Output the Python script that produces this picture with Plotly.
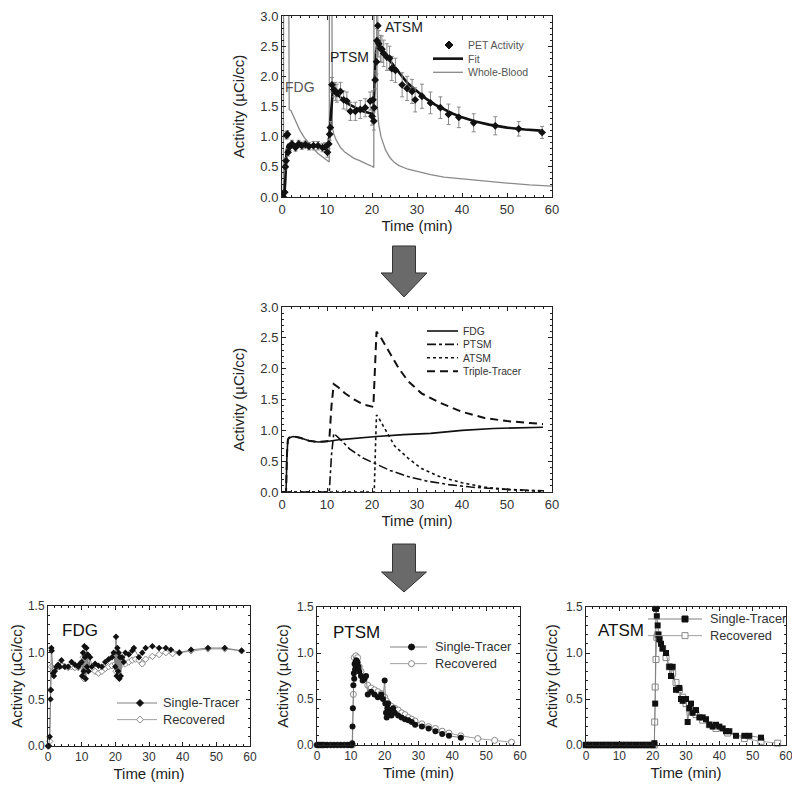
import plotly.graph_objects as go

FONT = "Liberation Sans, Arial, Helvetica, sans-serif"

# ---------------- Top panel data ----------------
pet_t = [0, 0.3, 0.6, 0.75, 0.9, 1.0, 1.2, 1.35, 1.7, 2.2, 3.0, 3.7, 4.4, 5.2, 6, 7, 8, 9, 9.6, 10.1,
         10.4, 10.6, 10.75, 11.1, 11.5, 11.85, 12.2, 13, 13.7, 14.4, 15.2, 16.3, 17.4, 18.5, 19.6,
         20.0, 20.2, 20.4, 20.5, 20.7, 21.0, 21.1, 21.3, 21.5, 21.9, 22.2, 22.6, 23.3, 23.9, 24.4,
         25.2, 26.7, 27.8, 28.9, 29.6, 31.1, 33, 35.2, 37, 39.3, 42.6, 47.4, 52.6, 57.8]
pet_v = [0, 0, 0.08, 0.5, 0.6, 1.02, 1.04, 0.74, 0.83, 0.88, 0.82, 0.88, 0.85, 0.87, 0.84,
         0.85, 0.85, 0.82, 0.83, 0.74, 0.88, 1.04, 1.15, 1.86, 1.78, 1.75, 1.72, 1.75, 1.61, 1.59,
         1.42, 1.42, 1.45, 1.48, 1.59, 1.34, 1.61, 1.26, 1.48, 1.94, 2.24, 2.59, 2.84, 2.54, 2.46,
         2.45, 2.38, 2.32, 2.3, 2.13, 2.1, 1.86, 1.8, 1.75, 1.61, 1.67, 1.56, 1.48, 1.37, 1.32,
         1.23, 1.18, 1.13, 1.07]
pet_err = [0.02, 0.02, 0.03, 0.05, 0.05, 0.06, 0.06, 0.06, 0.06, 0.06, 0.06, 0.06, 0.06, 0.06, 0.06,
           0.07, 0.07, 0.07, 0.07, 0.08, 0.08, 0.1, 0.1, 0.12, 0.12, 0.15, 0.15, 0.15, 0.15, 0.15,
           0.15, 0.15, 0.15, 0.15, 0.15, 0.15, 0.15, 0.15, 0.15, 0.15, 0.2, 0.2, 0.2, 0.22, 0.22,
           0.22, 0.22, 0.22, 0.2, 0.2, 0.2, 0.2, 0.2, 0.2, 0.2, 0.2, 0.18, 0.18, 0.17, 0.17,
           0.15, 0.15, 0.12, 0.1]

fit_t = [0, 0.5, 0.75, 1.0, 1.25, 1.5, 2, 3, 5, 7, 9, 10, 10.4, 10.7, 11, 11.3, 11.6, 12, 13, 14,
         15, 16, 17, 18, 19, 20, 20.3, 20.6, 20.9, 21.2, 21.5, 22, 23, 24, 25, 26, 27, 28, 30, 32,
         34, 36, 38, 40, 43, 46, 50, 54, 57.5]
fit_v = [0, 0, 0.3, 0.75, 0.85, 0.87, 0.88, 0.87, 0.85, 0.84, 0.84, 0.84, 0.9, 1.2, 1.6, 1.78,
         1.75, 1.72, 1.65, 1.58, 1.53, 1.49, 1.45, 1.42, 1.4, 1.38, 1.4, 1.8, 2.4, 2.55, 2.5, 2.45,
         2.35, 2.25, 2.15, 2.05, 1.97, 1.88, 1.75, 1.63, 1.53, 1.45, 1.38, 1.32, 1.25, 1.2, 1.15,
         1.12, 1.1]

wb_t = [0, 0.3, 0.4, 0.8, 1.2, 1.5, 1.6, 2, 2.5, 3, 4, 5, 6, 7, 8, 9, 10, 10.5, 10.6, 11.0, 11.2,
        11.5, 12, 13, 14, 15, 16, 17, 18, 19, 20, 20.4, 20.5, 20.9, 21.2, 21.5, 22, 23, 24, 25,
        26, 28, 30, 33, 36, 40, 45, 50, 55, 60]
wb_v = [0, 0, 6, 10, 6, 3.5, 1.45, 1.43, 1.35, 1.25, 1.1, 0.98, 0.88, 0.8, 0.72, 0.66, 0.6, 0.58,
        8, 5, 1.15, 1.05, 0.95, 0.82, 0.74, 0.69, 0.64, 0.61, 0.57, 0.54, 0.51, 0.49, 8, 5, 1.5,
        1.2, 1.0, 0.78, 0.65, 0.57, 0.52, 0.46, 0.42, 0.37, 0.33, 0.3, 0.26, 0.23, 0.2, 0.18]

# ---------------- Middle panel data ----------------
mfdg_t = [0, 0.9, 1.1, 1.3, 1.6, 2.5, 4, 6, 8, 10, 13, 17, 21, 27, 33, 40, 47, 58]
mfdg_v = [0, 0, 0.6, 0.85, 0.88, 0.9, 0.88, 0.83, 0.81, 0.82, 0.85, 0.88, 0.9, 0.93, 0.95, 1.0, 1.03, 1.05]
mptsm_t = [0, 10.5, 11.0, 11.5, 13, 15, 18, 21, 24, 28, 32, 37, 42, 48, 53, 58]
mptsm_v = [0, 0, 0.6, 0.95, 0.85, 0.7, 0.55, 0.45, 0.35, 0.25, 0.18, 0.12, 0.08, 0.05, 0.03, 0.02]
matsm_t = [0, 20.5, 20.8, 21, 21.5, 23, 25, 28, 31, 35, 40, 45, 50, 55, 58]
matsm_v = [0, 0, 0.8, 1.25, 1.2, 1.0, 0.75, 0.55, 0.38, 0.25, 0.15, 0.08, 0.04, 0.02, 0.01]
mtrip_t = [0, 0.9, 1.1, 1.3, 1.6, 2.5, 4, 6, 8, 10, 10.5, 11.0, 11.5, 12.5, 14, 16, 18, 20.3,
           20.8, 21, 22, 24, 26, 28, 31, 35, 40, 45, 50, 55, 58]
mtrip_v = [0, 0, 0.6, 0.85, 0.88, 0.9, 0.88, 0.83, 0.81, 0.82, 0.83, 1.4, 1.75, 1.7, 1.6, 1.5,
           1.42, 1.38, 2.1, 2.6, 2.5, 2.25, 2.0, 1.8, 1.6, 1.45, 1.3, 1.2, 1.15, 1.12, 1.1]

# ---------------- Bottom panels data ----------------
fdg_s_t = [0, 0.25, 0.5, 0.75, 0.85, 1.0, 1.1, 1.5, 1.75, 2, 2.5, 3, 3.5, 4, 5, 6, 7, 8, 9, 9.5,
           10, 10.2, 10.4, 10.6, 10.8, 11, 11.2, 11.4, 11.6, 11.8, 12, 12.5, 13, 14, 15, 16, 17,
           18, 19, 19.5, 20, 20.2, 20.4, 20.6, 20.8, 21, 21.2, 21.4, 21.6, 22, 22.5, 23, 24, 25,
           25.5, 27, 28, 29, 31, 33, 35, 36.5, 39, 42.5, 47.5, 52.5, 57.5]
fdg_s_v = [0, 0, 0.1, 0.5, 0.6, 1.05, 1.02, 0.78, 0.75, 0.8, 0.85, 0.87, 0.85, 0.92, 0.85, 0.85,
           0.9, 0.87, 0.85, 0.88, 0.9, 0.75, 1.0, 0.8, 1.07, 0.95, 0.72, 1.05, 0.85, 0.98, 0.8,
           0.95, 0.85, 0.88, 0.86, 0.85, 0.9, 0.93, 0.95, 1.0, 0.85, 1.17, 0.75, 1.05, 0.8, 1.0,
           0.72, 0.95, 0.75, 0.95, 0.9, 1.0, 0.98, 1.02, 1.05, 0.95, 1.0, 1.05, 1.07, 1.05, 1.05,
           1.03, 1.0, 1.03, 1.05, 1.05, 1.02]
fdg_r_t = [0, 0.25, 0.5, 0.75, 1.0, 1.5, 2, 3, 4, 5, 6, 7, 8, 9, 10, 10.25, 10.5, 10.75, 11, 11.25,
           11.5, 12, 12.5, 13, 14, 15, 16, 17, 18, 19, 20, 20.25, 20.5, 20.75, 21, 21.25, 21.5, 22,
           23, 24, 25, 26, 27, 28, 29, 31, 33, 35, 37, 39, 42.5, 47.5, 52.5, 57.5]
fdg_r_v = [0, 0, 0.05, 0.6, 0.85, 0.8, 0.82, 0.85, 0.86, 0.85, 0.84, 0.85, 0.84, 0.84, 0.85,
           0.75, 0.95, 0.72, 0.92, 0.8, 0.88, 0.85, 0.82, 0.83, 0.8, 0.78, 0.8, 0.83, 0.85, 0.86,
           0.88, 0.8, 0.95, 0.82, 0.92, 0.85, 0.9, 0.9, 0.88, 0.9, 0.92, 0.93, 0.92, 0.88, 0.93,
           0.96, 0.98, 1.0, 0.99, 1.0, 1.02, 1.04, 1.04, 1.02]

ptsm_s_t = [0, 0.5, 1, 1.5, 2, 2.5, 3, 4, 5, 6, 7, 8, 9, 9.5, 10, 10.25, 10.4, 10.5, 10.6, 10.75,
            10.9, 11, 11.1, 11.25, 11.4, 11.5, 11.6, 11.75, 12, 12.25, 12.5, 13, 13.5, 14, 14.5,
            15, 16, 17, 18, 19, 19.5, 20, 20.2, 20.4, 20.6, 20.8, 21, 21.25, 21.5, 22, 22.5, 23,
            24, 25, 26, 27, 28, 29, 31, 33, 35, 37, 39, 42.5]
ptsm_s_v = [0, 0, 0, 0, 0, 0, 0, 0, 0, 0, 0, 0, 0, 0, 0, 0.0, 0.02, 0.2, 0.4, 0.65, 0.78, 0.72,
            0.88, 0.82, 0.9, 0.85, 0.92, 0.88, 0.9, 0.85, 0.8, 0.75, 0.7, 0.72, 0.75, 0.55, 0.58,
            0.55, 0.52, 0.55, 0.5, 0.7, 0.45, 0.35, 0.3, 0.4, 0.45, 0.35, 0.38, 0.32, 0.4, 0.35,
            0.32, 0.3, 0.28, 0.27, 0.25, 0.22, 0.2, 0.18, 0.15, 0.12, 0.1, 0.08]
ptsm_r_t = [0, 0.5, 1, 1.5, 2, 3, 4, 5, 6, 7, 8, 9, 10, 10.5, 10.75, 11, 11.5, 12, 12.5, 13, 14, 15,
            16, 17, 18, 19, 20, 20.5, 21, 21.5, 22, 23, 24, 25, 26, 27, 28, 29, 31, 33, 35, 37, 39,
            42.5, 47.5, 52.5, 57.5]
ptsm_r_v = [0, 0, 0, 0, 0, 0, 0, 0, 0, 0, 0, 0, 0, 0, 0.55, 0.95, 0.97, 0.95, 0.85, 0.8, 0.72,
            0.65, 0.62, 0.6, 0.58, 0.56, 0.52, 0.48, 0.45, 0.43, 0.42, 0.4, 0.38, 0.35, 0.33, 0.3,
            0.28, 0.26, 0.23, 0.2, 0.18, 0.15, 0.13, 0.1, 0.07, 0.05, 0.03]

atsm_s_t = [0, 0.5, 1, 1.5, 2, 3, 4, 5, 6, 7, 8, 9, 10, 10.5, 11, 11.5, 12, 13, 14, 15, 16, 17, 18,
            19, 20, 20.5, 20.75, 21, 21.25, 21.5, 21.75, 22, 22.5, 23, 24, 25, 25.5, 26, 27, 28,
            28.5, 29, 30, 30.5, 31, 31.5, 32, 33, 34, 35, 36, 37, 38, 39, 40, 41, 42, 43, 45, 47.5,
            49, 52.5]
atsm_s_v = [0, 0, 0, 0, 0, 0, 0, 0, 0, 0, 0, 0, 0, 0, 0, 0, 0, 0, 0, 0, 0, 0, 0, 0, 0, 0.02, 0.45,
            1.48, 1.4, 1.3, 1.2, 1.15, 1.1, 1.05, 1.0, 0.85, 0.75, 0.85, 0.6, 0.62, 0.5, 0.48, 0.5,
            0.25, 0.4, 0.45, 0.35, 0.38, 0.3, 0.3, 0.28, 0.22, 0.2, 0.22, 0.2, 0.18, 0.15, 0.15,
            0.1, 0.1, 0.1, 0.08]
atsm_r_t = [0, 1, 2, 3, 4, 5, 6, 7, 8, 9, 10, 11, 12, 13, 14, 15, 16, 17, 18, 19, 20, 20.5, 20.6,
            20.75, 21, 21.25, 21.5, 22, 23, 24, 25, 26, 27, 28, 29, 30, 31, 32, 33, 35, 37, 39,
            42.5, 47.5, 52.5, 57.5]
atsm_r_v = [0, 0, 0, 0, 0, 0, 0, 0, 0, 0, 0, 0, 0, 0, 0, 0, 0, 0, 0, 0, 0, 0, 0.25, 0.63, 0.93,
            1.17, 1.2, 1.15, 1.05, 0.95, 0.85, 0.78, 0.68, 0.6, 0.52, 0.45, 0.4, 0.36, 0.33, 0.27,
            0.22, 0.18, 0.13, 0.07, 0.04, 0.02]

x_ticks = [0, 10, 20, 30, 40, 50, 60]
y_ticks_big = [0, 0.5, 1.0, 1.5, 2.0, 2.5, 3.0]
y_ticks_small = [0, 0.5, 1.0, 1.5]

# The page body has an 8 px margin, so the figure is drawn 8 px in from the corner.
OFF = 8
W, H = 800 - OFF, 788 - OFF


def px(x):
    return (x - OFF) / W


def py(y):
    return 1 - (y - OFF) / H


fig = go.Figure()

# ---- top
fig.add_trace(go.Scatter(x=wb_t, y=wb_v, mode="lines", name="Whole-Blood", showlegend=False,
                         line=dict(color="#8a8a8a", width=1.3), xaxis="x", yaxis="y"))
fig.add_trace(go.Scatter(x=fit_t, y=fit_v, mode="lines", name="Fit", showlegend=False,
                         line=dict(color="#111", width=2.6), xaxis="x", yaxis="y"))
fig.add_trace(go.Scatter(x=pet_t, y=pet_v, mode="markers", name="PET Activity", showlegend=False,
                         marker=dict(symbol="diamond", size=6, color="#111"),
                         error_y=dict(type="data", array=pet_err, color="#8a8a8a", thickness=1, width=2),
                         xaxis="x", yaxis="y"))

# ---- middle
fig.add_trace(go.Scatter(x=mfdg_t, y=mfdg_v, mode="lines", name="FDG", showlegend=False,
                         line=dict(color="#111", width=1.6), xaxis="x2", yaxis="y2"))
fig.add_trace(go.Scatter(x=mptsm_t, y=mptsm_v, mode="lines", name="PTSM", showlegend=False,
                         line=dict(color="#111", width=1.6, dash="dashdot"), xaxis="x2", yaxis="y2"))
fig.add_trace(go.Scatter(x=matsm_t, y=matsm_v, mode="lines", name="ATSM", showlegend=False,
                         line=dict(color="#111", width=1.6, dash="dot"), xaxis="x2", yaxis="y2"))
fig.add_trace(go.Scatter(x=mtrip_t, y=mtrip_v, mode="lines", name="Triple-Tracer", showlegend=False,
                         line=dict(color="#111", width=2, dash="8px,5px"), xaxis="x2", yaxis="y2"))

# ---- bottom
bottom = [
    (fdg_s_t, fdg_s_v, fdg_r_t, fdg_r_v, "diamond", 5, "3"),
    (ptsm_s_t, ptsm_s_v, ptsm_r_t, ptsm_r_v, "circle", 6, "4"),
    (atsm_s_t, atsm_s_v, atsm_r_t, atsm_r_v, "square", 6, "5"),
]
for st, sv, rt, rv, sym, msz, ax in bottom:
    fig.add_trace(go.Scatter(x=rt, y=rv, mode="lines+markers", name="Recovered", showlegend=False,
                             line=dict(color="#a0a0a0", width=1),
                             marker=dict(symbol=sym, size=msz, color="white",
                                         line=dict(color="#888", width=1)),
                             xaxis="x" + ax, yaxis="y" + ax, cliponaxis=False))
    fig.add_trace(go.Scatter(x=st, y=sv, mode="lines+markers", name="Single-Tracer", showlegend=False,
                             line=dict(color="#808080", width=1),
                             marker=dict(symbol=sym, size=msz, color="#111"),
                             xaxis="x" + ax, yaxis="y" + ax, cliponaxis=False))

axis_common = dict(showline=True, linecolor="#222", linewidth=1, mirror="allticks",
                   ticks="inside", ticklen=4, tickcolor="#222", showgrid=False, zeroline=False,
                   automargin=False, ticklabeloverflow="allow")

domains = {
    "": ((282, 552), (16, 197), 3.0, y_ticks_big),
    "2": ((282, 552), (307, 492), 3.0, y_ticks_big),
    "3": ((48, 250), (606, 746), 1.5, y_ticks_small),
    "4": ((317, 520), (607, 745), 1.5, y_ticks_small),
    "5": ((586, 786), (607, 745), 1.5, y_ticks_small),
}

layout = dict(width=W, height=H, autosize=False, margin=dict(l=0, r=0, t=0, b=0),
              template="none", showlegend=False,
              paper_bgcolor="white", plot_bgcolor="white",
              font=dict(family=FONT, color="#222"))

for k, ((x0, x1), (y0, y1), ymax, yt) in domains.items():
    big = k in ("", "2")
    tick_sz = 13 if big else 12
    title_sz = 15
    xa = dict(axis_common, domain=[px(x0), px(x1)], range=[0, 60], anchor="y" + k,
              tickvals=x_ticks, tickfont=dict(family=FONT, size=tick_sz, color="#333"),
              minor=dict(dtick=2, ticks="inside", ticklen=2, tickcolor="#222"),
              title=dict(text="Time (min)", font=dict(family=FONT, size=title_sz, color="#222"),
                         standoff=2 if big else 5))
    ya = dict(axis_common, domain=[py(y1), py(y0)], range=[0, ymax], anchor="x" + k,
              tickvals=yt, tickformat=".1f", tickfont=dict(family=FONT, size=tick_sz, color="#333"),
              minor=dict(dtick=0.1, ticks="inside", ticklen=2, tickcolor="#222"),
              title=dict(text="Activity (µCi/cc)", font=dict(family=FONT, size=title_sz, color="#222"),
                         standoff=12 if big else 4))
    layout["xaxis" + k] = xa
    layout["yaxis" + k] = ya

annotations = [
    dict(x=4.1, y=1.82, xref="x", yref="y", text="FDG", showarrow=False,
         font=dict(family=FONT, size=14, color="#555")),
    dict(x=14.9, y=2.32, xref="x", yref="y", text="PTSM", showarrow=False,
         font=dict(family=FONT, size=14, color="#222")),
    dict(x=27.2, y=2.81, xref="x", yref="y", text="ATSM", showarrow=False,
         font=dict(family=FONT, size=14, color="#222")),
    dict(x=9.6, y=1.24, xref="x3", yref="y3", text="FDG", showarrow=False,
         font=dict(family=FONT, size=17, color="#111")),
    dict(x=11.8, y=1.22, xref="x4", yref="y4", text="PTSM", showarrow=False,
         font=dict(family=FONT, size=17, color="#111")),
    dict(x=10.6, y=1.24, xref="x5", yref="y5", text="ATSM", showarrow=False,
         font=dict(family=FONT, size=17, color="#111")),
]

shapes = []


def arrow(cx, top, neck, tip, shaft_half, head_half):
    pts = [(cx - shaft_half, top), (cx + shaft_half, top), (cx + shaft_half, neck),
           (cx + head_half, neck), (cx, tip), (cx - head_half, neck), (cx - shaft_half, neck)]
    d = "M " + " L ".join(f"{px(a):.4f},{py(b):.4f}" for a, b in pts) + " Z"
    return dict(type="path", path=d, xref="paper", yref="paper",
                fillcolor="#6a6a6a", line=dict(color="#333", width=1))


shapes += [arrow(404, 246, 273, 297, 11.5, 23), arrow(404, 544, 572, 592, 11.5, 22.5)]


# ---- hand-placed legend keys (layout decoration, compact spacing as in the figure)
def leg_line(x0, x1, y, color, width, dash="solid"):
    return dict(type="line", xref="paper", yref="paper", x0=px(x0), x1=px(x1), y0=py(y), y1=py(y),
                line=dict(color=color, width=width, dash=dash))


def leg_marker(cx, cy, sym, size, fill, edge):
    h = size / 2
    base = dict(xref="paper", yref="paper", xsizemode="pixel", ysizemode="pixel",
                xanchor=px(cx), yanchor=py(cy), fillcolor=fill, line=dict(color=edge, width=1))
    if sym == "circle":
        return dict(base, type="circle", x0=-h, x1=h, y0=-h, y1=h)
    if sym == "square":
        return dict(base, type="rect", x0=-h, x1=h, y0=-h, y1=h)
    d = f"M 0,{h+1} L {h+1},0 L 0,{-h-1} L {-h-1},0 Z"
    return dict(base, type="path", path=d)


def leg_block(x, y_first, lines, size, color):
    """One multi-line annotation; returns it plus the y of each line centre."""
    step = size * 1.3
    n = len(lines)
    yc = y_first + step * (n - 1) / 2
    ann = dict(x=px(x), y=py(yc), xref="paper", yref="paper", xanchor="left", yanchor="middle",
               align="left", text="<br>".join(lines), showarrow=False,
               font=dict(family=FONT, size=size, color=color))
    return ann, [y_first + i * step for i in range(n)]


# top legend
ann, ys = leg_block(466, 45, ["PET Activity", "Fit", "Whole-Blood"], 10.5, "#555")
annotations.append(ann)
shapes.append(leg_marker(449, ys[0], "diamond", 6, "#111", "#111"))
shapes.append(leg_line(433, 463, ys[1], "#111", 2.6))
shapes.append(leg_line(433, 463, ys[2], "#8a8a8a", 1.3))

# middle legend
ann, ys = leg_block(461, 331, ["FDG", "PTSM", "ATSM", "Triple-Tracer"], 10.3, "#333")
annotations.append(ann)
shapes += [leg_line(427, 458, ys[0], "#111", 1.6),
           leg_line(427, 458, ys[1], "#111", 1.6, "dashdot"),
           leg_line(427, 458, ys[2], "#111", 1.6, "dot"),
           leg_line(427, 458, ys[3], "#111", 2, "8px,5px")]

# bottom legends
bottom_leg = [
    (117, 157, 703, "diamond", 5, 161),
    (390, 427, 647, "circle", 6, 433),
    (648, 702, 619, "square", 6, 708),
]
for x0, x1, y_first, sym, msz, tx in bottom_leg:
    ann, ys = leg_block(tx, y_first, ["Single-Tracer", "Recovered"], 12.8, "#333")
    annotations.append(ann)
    mx = (x0 + x1) / 2 + (3 if sym != "square" else 10)
    shapes.append(leg_line(x0, x1, ys[0], "#808080", 1))
    shapes.append(leg_marker(mx, ys[0], sym, msz, "#111", "#111"))
    shapes.append(leg_line(x0, x1, ys[1], "#a0a0a0", 1))
    shapes.append(leg_marker(mx, ys[1], sym, msz, "white", "#888"))

layout["annotations"] = annotations
layout["shapes"] = shapes

fig.update_layout(**layout)
fig.write_html("out.html")
